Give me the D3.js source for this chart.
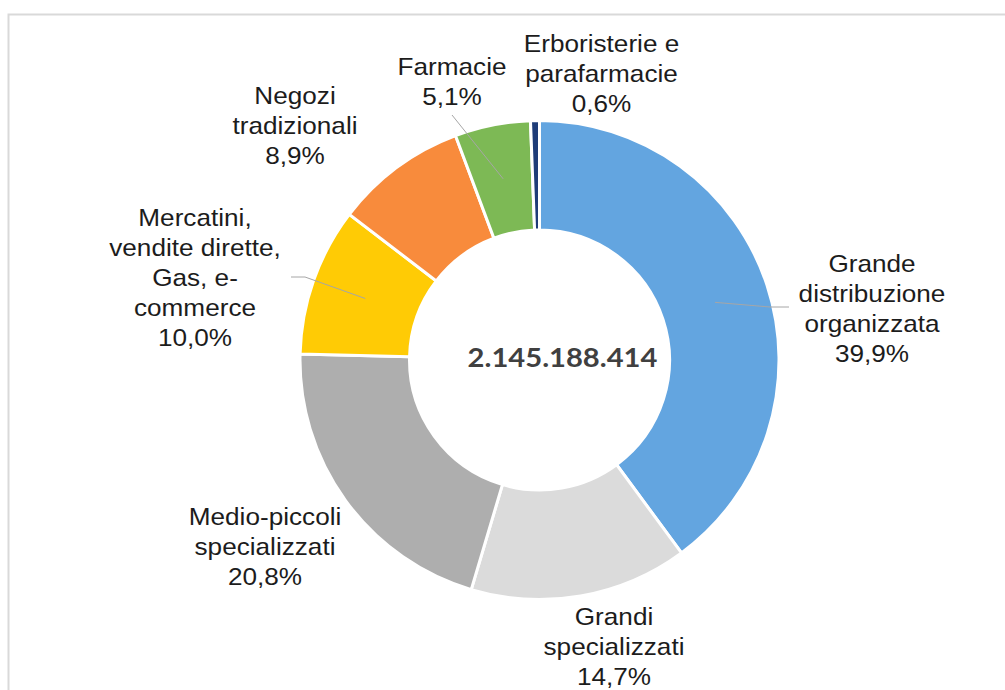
<!DOCTYPE html>
<html lang="it">
<head>
<meta charset="utf-8">
<title>Canali di vendita</title>
<script src="https://cdn.jsdelivr.net/npm/d3@7"></script>
<style>
  html, body { margin: 0; padding: 0; background: #ffffff; }
  svg { display: block; }
  .lbl { font-family: "Liberation Sans", Arial, sans-serif; font-size: 24px; fill: #1c1c1c; }
  .total { font-family: Lato, "Liberation Sans", sans-serif; font-weight: 700; font-size: 26.5px; fill: #404040; }
</style>
</head>
<body>
<script>
// Canali di vendita: quote percentuali sul totale
const categories = [
  ["Grande", "distribuzione", "organizzata"],
  ["Grandi", "specializzati"],
  ["Medio-piccoli", "specializzati"],
  ["Mercatini,", "vendite dirette,", "Gas, e-", "commerce"],
  ["Negozi", "tradizionali"],
  ["Farmacie"],
  ["Erboristerie e", "parafarmacie"]
];
const shares = [39.9, 14.7, 20.8, 10.0, 8.9, 5.1, 0.6];
const colors = ["#63a5e0", "#dbdbdb", "#aeaeae", "#ffcb05", "#f88b3c", "#7db955", "#1e3c78"];
const totalValue = 2145188414;

// Layout
const W = 1005, H = 690;
const cx = 539.5, cy = 360;
const rOuter = 239.5, rInner = 130;
const lineH = 30;
// label block: centre x, first baseline y, and optional leader elbow (label side)
const labelLayout = [
  { x: 872, y: 272, leader: [[789, 307], [770, 307]] },
  { x: 614, y: 625 },
  { x: 265, y: 525 },
  { x: 195, y: 226, leader: [[291, 277], [305, 277]] },
  { x: 295, y: 104 },
  { x: 452, y: 75, leader: [[452, 115]] },
  { x: 601.5, y: 52 }
];

const it = d3.formatLocale({ decimal: ",", thousands: ".", grouping: [3], currency: ["€", ""] });
const fmtPct = it.format(".1f");
const fmtTot = it.format(",d");

const svg = d3.select("body").append("svg")
  .attr("width", W).attr("height", H);

// chart frame
svg.append("rect")
  .attr("x", 8.5).attr("y", 14.5)
  .attr("width", W + 20).attr("height", H + 20)
  .attr("fill", "#ffffff")
  .attr("stroke", "#d9d9d9").attr("stroke-width", 2);

const pie = d3.pie().sort(null).value(d => d)(shares);
const arc = d3.arc().innerRadius(rInner).outerRadius(rOuter);

const g = svg.append("g").attr("transform", `translate(${cx},${cy})`);
g.selectAll("path.slice")
  .data(pie)
  .join("path")
  .attr("class", "slice")
  .attr("d", arc)
  .attr("fill", (d, i) => colors[i])
  .attr("stroke", "#ffffff")
  .attr("stroke-width", 3)
  .attr("stroke-linejoin", "miter");

// leader lines from label to slice centroid
pie.forEach((d, i) => {
  const L = labelLayout[i];
  if (!L.leader) return;
  const c = arc.centroid(d);
  const pts = L.leader.concat([[cx + c[0], cy + c[1]]]);
  svg.append("path")
    .attr("d", d3.line()(pts))
    .attr("fill", "none")
    .attr("stroke", "#a6a6a6")
    .attr("stroke-width", 1);
});

// data labels
categories.forEach((lines, i) => {
  const L = labelLayout[i];
  const t = svg.append("text")
    .attr("class", "lbl")
    .attr("text-anchor", "middle")
    .attr("transform", `translate(${L.x},${L.y}) scale(1.09,1)`);
  lines.concat([fmtPct(shares[i]) + "%"]).forEach((s, k) => {
    t.append("tspan").attr("x", 0).attr("y", k * lineH).text(s);
  });
});

// total in the centre
svg.append("text")
  .attr("class", "total")
  .attr("text-anchor", "middle")
  .attr("transform", `translate(562.5,367) scale(1.1,1)`)
  .text(fmtTot(totalValue));
</script>
</body>
</html>
